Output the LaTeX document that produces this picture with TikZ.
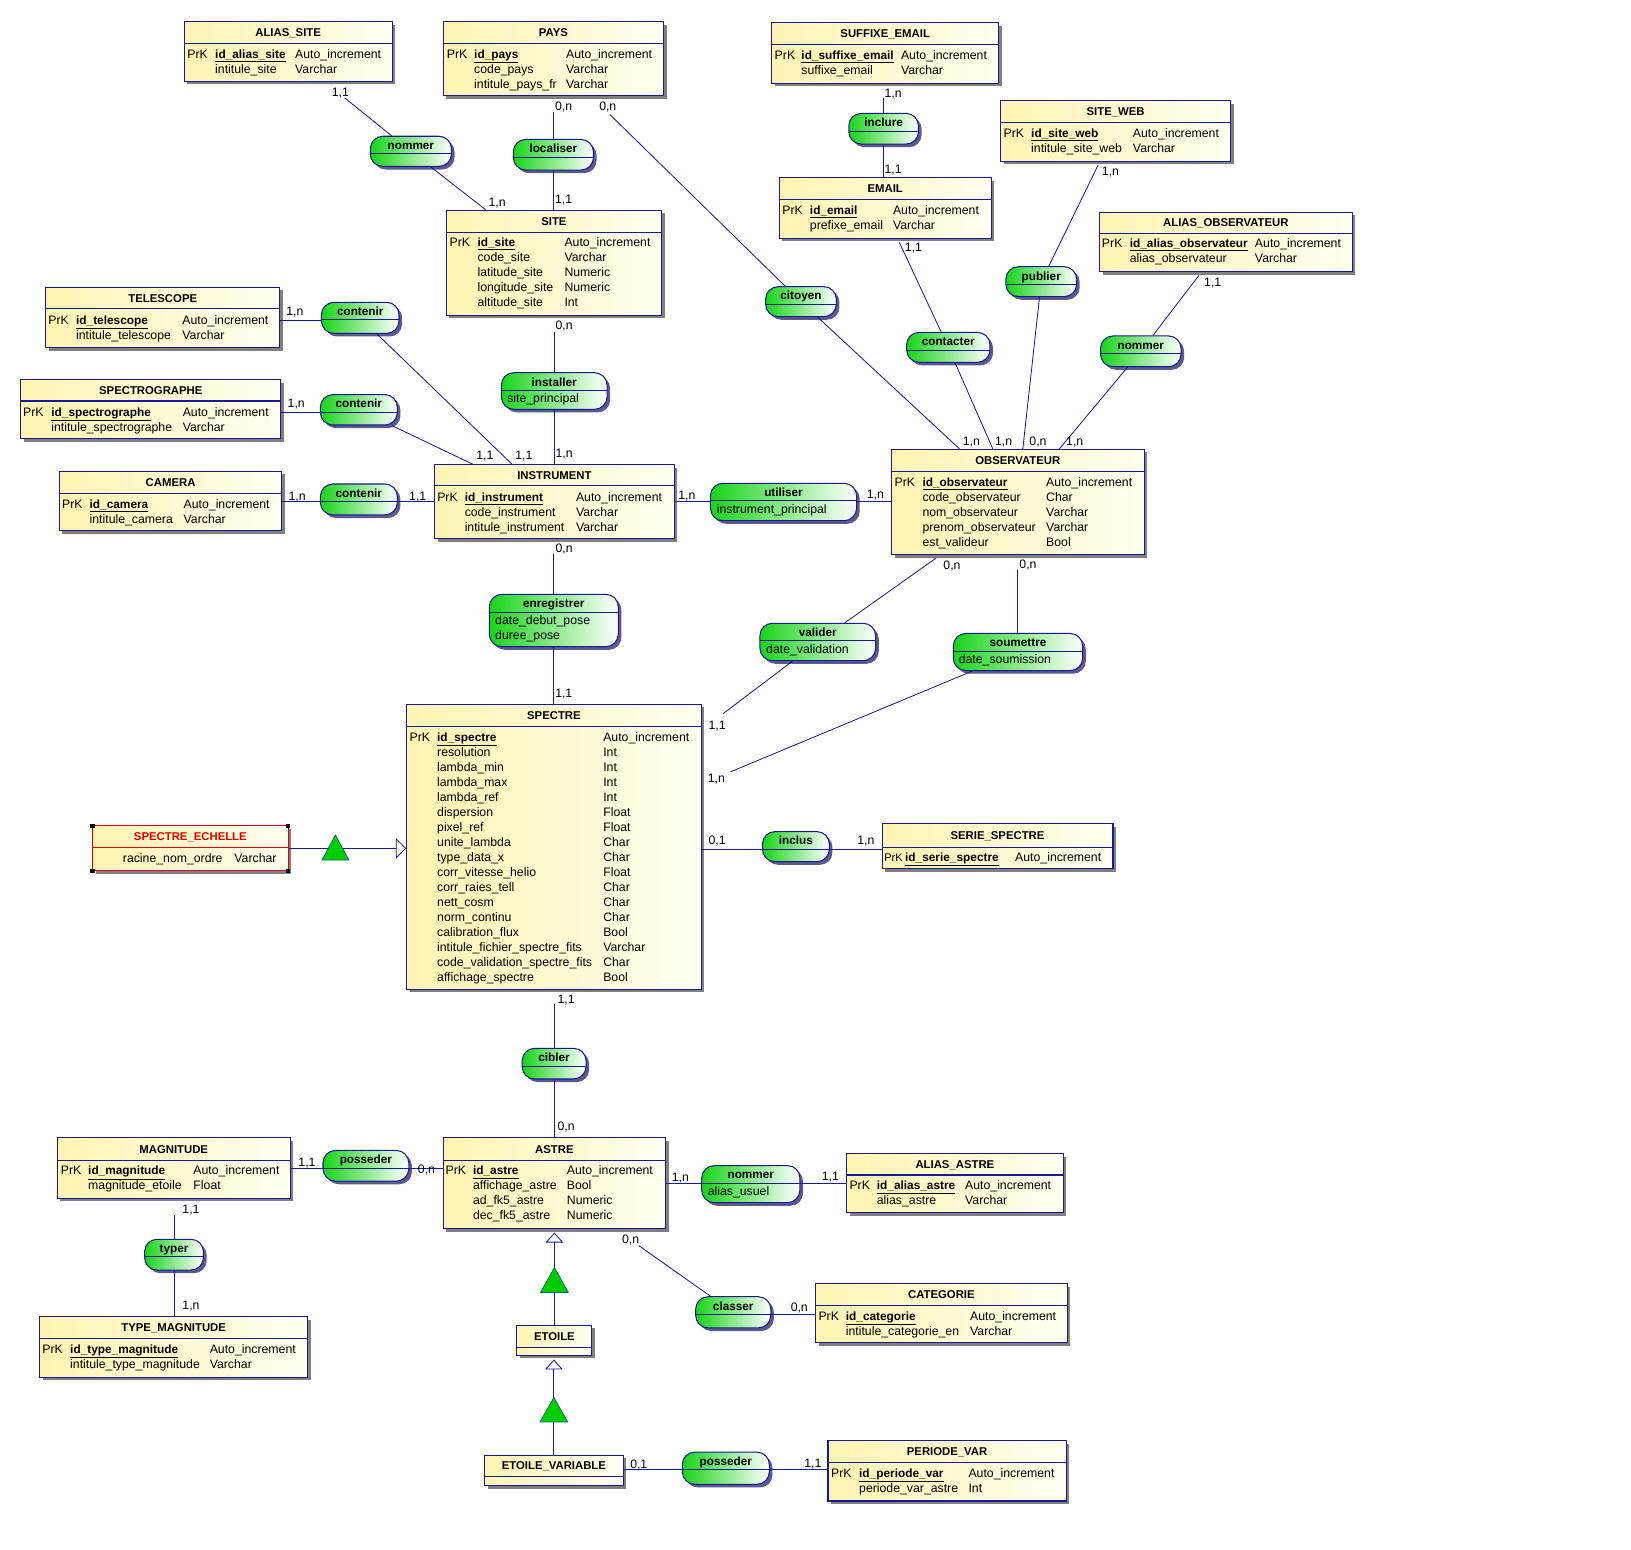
\documentclass[tikz,border=0pt]{standalone}
\usepackage{fontspec}
\setmainfont{Liberation Sans}
\usetikzlibrary{fit,calc,arrows.meta}
\definecolor{navy}{RGB}{25,25,150}
\definecolor{entL}{RGB}{255,244,178}
\definecolor{entR}{RGB}{255,255,240}
\definecolor{pg}{RGB}{25,212,25}
\definecolor{shd}{RGB}{128,128,128}
\definecolor{pshd}{RGB}{90,90,140}
\definecolor{trig}{RGB}{0,205,0}
\definecolor{trigd}{RGB}{0,110,90}
\definecolor{redt}{RGB}{225,0,0}
\newcommand\fR{\fontsize{11.8}{14.4}\selectfont}
\newcommand\fT{\fontsize{10.9}{13}\selectfont\bfseries}
\newcommand\fP{\fontsize{11.3}{13}\selectfont\bfseries}
\newcommand\pk[1]{{\fontsize{11.4}{14}\selectfont\bfseries\underline{#1}}}
\tikzset{
  ent/.style={draw=navy, line width=1pt, inner sep=0pt, rectangle, left color=entL, right color=entR},
  pill/.style={draw=navy, line width=1pt, inner sep=0pt, rounded corners=12pt, left color=pg, right color=white, middle color=pg!50!white},
  att/.style={anchor=base west, inner sep=0pt, font=\fR},
  ttl/.style={anchor=base, inner sep=0pt, font=\fT},
  ptl/.style={anchor=base, inner sep=0pt, font=\fP},
  card/.style={anchor=base west, inner sep=0pt, font=\fR},
  link/.style={draw=navy, line width=0.8pt},
  isa/.style={draw=navy, line width=0.8pt, -{Triangle[open, length=9.5pt, width=17pt]}},
  gtri/.style={fill=trig, draw=trigd, line width=0.7pt},
}
\newcommand\Ent[8]{%
  \fill[shd] ({#2+3},{#3+3}) rectangle ({#4+3},{#5+3});
  \node[ent, fit={(#2,#3) (#4,#5)}] (#1) {};
  \draw[navy, line width=1pt] (#2,#6) -- (#4,#6);
  \node[ttl] (#1-t) at ({(#2+#4)/2},{#7+4}) {#8};
}
\newcommand\PK[3]{\node[att] (#1-pk) at (#2,{#3+4.2}) {PrK};}
\newcommand\Rows[5]{%
  \foreach \aN/\aT [count=\i from 0] in {#5}{%
    \node[att] (#1-a\i) at (#2,{#4+\i*14.42+4.2}) {\aN};
    \node[att] (#1-y\i) at (#3,{#4+\i*14.42+4.2}) {\aT};
  }%
}
\newcommand\Pill[6]{%
  \fill[pshd, rounded corners=12pt] ({#2+3},{#3+3}) rectangle ({#4+3},{#5+3});
  \node[pill, fit={(#2,#3) (#4,#5)}] (#1) {};
  \coordinate (#1-w) at (#2,{#3+17});
  \coordinate (#1-e) at (#4,{#3+17});
  \draw[navy, line width=0.9pt] (#1-w) -- (#1-e);
  \node[ptl] (#1-t) at ({(#2+#4)/2},{#3+12.8}) {#6};
}
\newcommand\PA[4]{\node[att] (#1) at (#2,{#3+4.2}) {#4};}
\newcommand\Card[4]{\node[card] (#1) at (#2,{#3+4.2}) {#4};}
\begin{document}
\begin{tikzpicture}[x=1pt,y=-1pt]
\fill[white] (0,0) rectangle (1568,1490);
\useasboundingbox (0,0) rectangle (1568,1490);

% ---------------- entities ----------------
\Ent{aliassite}{177}{21}{377}{78}{42}{31.5}{ALIAS\_SITE}
\PK{aliassite}{180}{51.6}
\Rows{aliassite}{206.7}{283.6}{51.6}{\pk{id\_alias\_site}/Auto\_increment, intitule\_site/Varchar}

\Ent{pays}{426}{21}{638}{92}{42}{31.5}{PAYS}
\PK{pays}{429.4}{51.6}
\Rows{pays}{455.7}{544.1}{51.6}{\pk{id\_pays}/Auto\_increment, code\_pays/Varchar, intitule\_pays\_fr/Varchar}

\Ent{suffixe}{742}{22}{960}{80}{43}{32}{SUFFIXE\_EMAIL}
\PK{suffixe}{744.6}{52.6}
\Rows{suffixe}{770.3}{866}{52.6}{\pk{id\_suffixe\_email}/Auto\_increment, suffixe\_email/Varchar}

\Ent{siteweb}{962}{97}{1183}{155}{117.6}{107}{SITE\_WEB}
\PK{siteweb}{964.6}{127.6}
\Rows{siteweb}{991.2}{1089}{127.6}{\pk{id\_site\_web}/Auto\_increment, intitule\_site\_web/Varchar}

\Ent{email}{749}{171}{953}{229}{191.6}{181}{EMAIL}
\PK{email}{752}{201.9}
\Rows{email}{778.5}{858.3}{201.9}{\pk{id\_email}/Auto\_increment, prefixe\_email/Varchar}

\Ent{aliasobs}{1057}{204}{1300}{261}{224.3}{214}{ALIAS\_OBSERVATEUR}
\PK{aliasobs}{1059.2}{233.9}
\Rows{aliasobs}{1086}{1206.3}{233.9}{\pk{id\_alias\_observateur}/Auto\_increment, alias\_observateur/Varchar}

\Ent{site}{429}{202}{636}{303}{223.3}{212.5}{SITE}
\PK{site}{432}{232.9}
\Rows{site}{458.9}{542.5}{232.9}{\pk{id\_site}/Auto\_increment, code\_site/Varchar, latitude\_site/Numeric, longitude\_site/Numeric, altitude\_site/Int}

\Ent{telescope}{44}{276}{269}{334}{296.7}{286.5}{TELESCOPE}
\PK{telescope}{46.3}{307.6}
\Rows{telescope}{73}{175.2}{307.6}{\pk{id\_telescope}/Auto\_increment, intitule\_telescope/Varchar}

\Ent{spectro}{20}{365}{270}{422}{385.5}{375}{SPECTROGRAPHE}
\PK{spectro}{22.1}{396}
\Rows{spectro}{49.2}{175.5}{396}{\pk{id\_spectrographe}/Auto\_increment, intitule\_spectrographe/Varchar}

\Ent{camera}{57}{453}{271}{510}{474}{463.5}{CAMERA}
\PK{camera}{59.6}{484.2}
\Rows{camera}{86}{176.4}{484.2}{\pk{id\_camera}/Auto\_increment, intitule\_camera/Varchar}

\Ent{instrument}{418}{447}{648}{518}{467.2}{457}{INSTRUMENT}
\PK{instrument}{420.2}{477.5}
\Rows{instrument}{446.6}{553.6}{477.5}{\pk{id\_instrument}/Auto\_increment, code\_instrument/Varchar, intitule\_instrument/Varchar}

\Ent{obs}{857}{432}{1100}{533}{453.4}{442.5}{OBSERVATEUR}
\PK{obs}{859.8}{463.1}
\Rows{obs}{886.7}{1005.6}{463.1}{\pk{id\_observateur}/Auto\_increment, code\_observateur/Char, nom\_observateur/Varchar, prenom\_observateur/Varchar, est\_valideur/Bool}

\Ent{spectre}{391}{677}{674}{951}{698}{687.5}{SPECTRE}
\PK{spectre}{393.6}{708.2}
\Rows{spectre}{420.1}{579.8}{708.2}{\pk{id\_spectre}/Auto\_increment, resolution/Int, lambda\_min/Int, lambda\_max/Int, lambda\_ref/Int, dispersion/Float, pixel\_ref/Float, unite\_lambda/Char, type\_data\_x/Char, corr\_vitesse\_helio/Float, corr\_raies\_tell/Char, nett\_cosm/Char, norm\_continu/Char, calibration\_flux/Bool, intitule\_fichier\_spectre\_fits/Varchar, code\_validation\_spectre\_fits/Char, affichage\_spectre/Bool}

% SPECTRE_ECHELLE (selected, red)
\fill[shd] (92,797) rectangle (280,840);
\node[ent, draw=redt, fit={(89,794) (277,837)}] (echelle) {};
\draw[redt, line width=1pt] (89,814.3) -- (277,814.3);
\node[ttl, text=redt] (echelle-t) at (183,808) {SPECTRE\_ECHELLE};
\node[att] (echelle-a0) at (118,828.7) {racine\_nom\_ordre};
\node[att] (echelle-y0) at (225.2,828.7) {Varchar};
\foreach \cx/\cy in {89/794, 277/794, 89/837, 277/837}
  \fill[black] (\cx-2,\cy-2) rectangle (\cx+2,\cy+2);

\Ent{serie}{848}{792}{1070}{835}{814.5}{803}{SERIE\_SPECTRE}
\node[att, font=\fontsize{10.6}{13}\selectfont] (serie-pk) at (850,828.4) {PrK};
\Rows{serie}{870}{975.8}{824.2}{\pk{id\_serie\_spectre}/Auto\_increment}

\Ent{astre}{426}{1094}{640}{1181}{1115.5}{1105}{ASTRE}
\PK{astre}{428.3}{1125.4}
\Rows{astre}{454.6}{544.8}{1125.4}{\pk{id\_astre}/Auto\_increment, affichage\_astre/Bool, ad\_fk5\_astre/Numeric, dec\_fk5\_astre/Numeric}

\Ent{magnitude}{55}{1094}{279}{1152}{1115.5}{1105}{MAGNITUDE}
\PK{magnitude}{58.3}{1125.4}
\Rows{magnitude}{84.6}{185.8}{1125.4}{\pk{id\_magnitude}/Auto\_increment, magnitude\_etoile/Float}

\Ent{typemag}{38}{1266}{296}{1324}{1286.6}{1276}{TYPE\_MAGNITUDE}
\PK{typemag}{40.6}{1296.9}
\Rows{typemag}{67.3}{201.5}{1296.9}{\pk{id\_type\_magnitude}/Auto\_increment, intitule\_type\_magnitude/Varchar}

\Ent{etoile}{497}{1274}{569}{1303}{1295}{1284.5}{ETOILE}
\Ent{etoilevar}{466}{1399}{599}{1428}{1419.6}{1409}{ETOILE\_VARIABLE}

\Ent{aliasastre}{814}{1109}{1022}{1166}{1129.6}{1119.5}{ALIAS\_ASTRE}
\PK{aliasastre}{816.5}{1139.8}
\Rows{aliasastre}{842.8}{927.7}{1139.8}{\pk{id\_alias\_astre}/Auto\_increment, alias\_astre/Varchar}

\Ent{categorie}{784}{1234}{1026}{1291}{1254.9}{1244.5}{CATEGORIE}
\PK{categorie}{786.7}{1264.8}
\Rows{categorie}{813}{932.5}{1264.8}{\pk{id\_categorie}/Auto\_increment, intitule\_categorie\_en/Varchar}

\Ent{periode}{796}{1385}{1025}{1443}{1405.8}{1395}{PERIODE\_VAR}
\PK{periode}{798.9}{1415.8}
\Rows{periode}{825.8}{930.9}{1415.8}{\pk{id\_periode\_var}/Auto\_increment, periode\_var\_astre/Int}

% ---------------- associations ----------------
\Pill{nommerS}{356}{131}{434}{160}{nommer}
\Pill{localiser}{493.5}{134}{570.5}{163.5}{localiser}
\Pill{inclure}{816}{109}{883}{138.5}{inclure}
\Pill{citoyen}{736}{275.6}{804}{304.4}{citoyen}
\Pill{publier}{967}{256.4}{1035}{285.2}{publier}
\Pill{contacter}{871.6}{319.5}{951.7}{348.3}{contacter}
\Pill{nommerO}{1058}{323}{1135.4}{352.5}{nommer}
\Pill{contenirT}{309}{290.6}{383.6}{320.5}{contenir}
\Pill{contenirS}{308}{379.4}{382}{408.6}{contenir}
\Pill{contenirC}{308}{465.3}{382}{495}{contenir}
\Pill{installer}{482}{358.3}{583.6}{393.5}{installer}
\PA{installer-a0}{487.5}{382.3}{site\_principal}
\Pill{utiliser}{683}{464.6}{823.5}{500.6}{utiliser}
\PA{utiliser-a0}{689}{489.3}{instrument\_principal}
\Pill{enregistrer}{470.4}{571.4}{594.4}{621.7}{enregistrer}
\PA{enregistrer-a0}{475.9}{596}{date\_debut\_pose}
\PA{enregistrer-a1}{475.9}{610.5}{duree\_pose}
\Pill{valider}{730.6}{599.2}{841.8}{635.2}{valider}
\PA{valider-a0}{736.4}{623.9}{date\_validation}
\Pill{soumettre}{916.5}{609}{1040.8}{644.7}{soumettre}
\PA{soumettre-a0}{921.6}{633.2}{date\_soumission}
\Pill{inclus}{733}{799.5}{797.3}{828.4}{inclus}
\Pill{cibler}{502}{1007.8}{563.4}{1037.3}{cibler}
\Pill{possederM}{310.5}{1106}{393}{1135.5}{posseder}
\Pill{typer}{139}{1191.4}{195.6}{1221}{typer}
\Pill{nommerA}{674.6}{1120.6}{769}{1156.2}{nommer}
\PA{nommerA-a0}{680.3}{1145}{alias\_usuel}
\Pill{classer}{668.8}{1246.6}{741}{1276.6}{classer}
\Pill{possederV}{656}{1396}{739.6}{1427}{posseder}

% ---------------- connectors ----------------
\coordinate (pays-g) at ($(pays.south)+(0,15)$);
\coordinate (suffixe-g) at ($(suffixe.south)+(0,14)$);
\coordinate (site-g) at ($(site.south)+(0,16)$);
\coordinate (instrument-g) at ($(instrument.south)+(0,14)$);
\coordinate (obs-g) at ($(obs.south west)+(121.5,14)$);
\coordinate (spectre-g) at ($(spectre.south)+(0,14)$);
\coordinate (magnitude-g) at ($(magnitude.south)+(0,16)$);
\coordinate (astre-tip) at ($(etoile.north |- astre.south)+(0,3.5)$);
\coordinate (etoile-tip) at ($(etoilevar.north |- etoile.south)+(0,3.5)$);

\draw[link] ($(aliassite.south west)+(154.7,15.5)$) -- (nommerS);
\draw[link] (nommerS) -- ($(site.north west)+(38.2,0)$);
\draw[link] (localiser.north) -- (localiser.north |- pays-g);
\draw[link] (localiser.south) -- (localiser.south |- site.north);
\draw[link] ($(pays.south east)+(-52.2,17.6)$) -- (citoyen);
\draw[link] (citoyen) -- ($(obs.north west)+(65.9,0)$);
\draw[link] (inclure.north) -- (inclure.north |- suffixe-g);
\draw[link] (inclure.south) -- (inclure.south |- email.north);
\draw[link] ($(email.south west)+(115.9,3.2)$) -- (contacter);
\draw[link] (contacter) -- ($(obs.north west)+(97.9,0)$);
\draw[link] ($(siteweb.south west)+(94.2,3.2)$) -- (publier);
\draw[link] (publier) -- ($(obs.north west)+(126.8,0)$);
\draw[link] ($(aliasobs.south west)+(96,3.4)$) -- (nommerO);
\draw[link] (nommerO) -- ($(obs.north west)+(162,0)$);
\draw[link] (telescope.east |- contenirT-w) -- (contenirT-w);
\draw[link] (contenirT) -- ($(instrument.north west)+(75,0)$);
\draw[link] (spectro.east |- contenirS-w) -- (contenirS-w);
\draw[link] (contenirS) -- ($(instrument.north west)+(37.5,0)$);
\draw[link] (camera.east |- contenirC-w) -- (contenirC-w);
\draw[link] (contenirC-e) -- (contenirC-e -| instrument.west);
\draw[link] (installer.north) -- (installer.north |- site-g);
\draw[link] (installer.south) -- (installer.south |- instrument.north);
\draw[link] (instrument.east |- utiliser-w) -- (utiliser-w);
\draw[link] (utiliser-e) -- (utiliser-e -| obs.west);
\draw[link] (enregistrer.north) -- (enregistrer.north |- instrument-g);
\draw[link] (enregistrer.south) -- (enregistrer.south |- spectre.north);
\draw[link] ($(obs.south west)+(43.5,2.9)$) -- (valider);
\draw[link] (valider) -- ($(spectre.north east)+(20.7,9.6)$);
\draw[link] (obs-g) -- (obs-g |- soumettre.north);
\draw[link] (soumettre) -- ($(spectre.north east)+(27.8,65.5)$);
\draw[link] (spectre.east |- inclus-w) -- (inclus-w);
\draw[link] (inclus-e) -- (inclus-e -| serie.west);
\draw[link] (cibler.north) -- (cibler.north |- spectre-g);
\draw[link] (cibler.south) -- (cibler.south |- astre.north);
\draw[link] (magnitude.east |- possederM-w) -- (possederM-w);
\draw[link] (possederM-e) -- (possederM-e -| astre.west);
\draw[link] (typer.north) -- (typer.north |- magnitude-g);
\draw[link] (typer.south) -- (typer.south |- typemag.north);
\draw[link] (astre.east |- nommerA-w) -- (nommerA-w);
\draw[link] (nommerA-e) -- (nommerA-e -| aliasastre.west);
\draw[link] ($(astre.south east)+(-26.5,15.9)$) -- (classer);
\draw[link] (classer-e) -- (classer-e -| categorie.west);
\draw[link] (etoilevar.east |- possederV-w) -- (possederV-w);
\draw[link] (possederV-e) -- (possederV-e -| periode.west);

% inheritance
\draw[link, -{Triangle[open, length=10pt, width=20pt]}] (echelle.east) -- (echelle.east -| spectre.west);
\path[gtri] (309.6,826.8) -- (322.5,802.7) -- (335.4,826.8) -- cycle;
\draw[isa] (etoile.north) -- (astre-tip);
\path[gtri] ($(etoile.north)+(-13.3,-31)$) -- ($(etoile.north)+(0,-55)$) -- ($(etoile.north)+(13.3,-31)$) -- cycle;
\draw[isa] (etoilevar.north) -- (etoile-tip);
\path[gtri] ($(etoilevar.north)+(-13.3,-31.5)$) -- ($(etoilevar.north)+(0,-55)$) -- ($(etoilevar.north)+(13.3,-31.5)$) -- cycle;

% ---------------- cardinalities ----------------
\Card{k1}{318.8}{88.2}{1,1}
\Card{k2}{469.5}{194.2}{1,n}
\Card{k3}{533.5}{101.9}{0,n}
\Card{k4}{533.5}{191.3}{1,1}
\Card{k5}{575.9}{102.5}{0,n}
\Card{k6}{534}{312.4}{0,n}
\Card{k7}{534}{435.8}{1,n}
\Card{k8}{275.1}{299}{1,n}
\Card{k9}{276.4}{387.7}{1,n}
\Card{k10}{277.2}{476.5}{1,n}
\Card{k11}{457.8}{438}{1,1}
\Card{k12}{495.3}{438}{1,1}
\Card{k13}{393.2}{476.5}{1,1}
\Card{k14}{652}{476}{1,n}
\Card{k15}{833.2}{475.2}{1,n}
\Card{k16}{534}{527}{0,n}
\Card{k17}{533.6}{666.5}{1,1}
\Card{k18}{925.5}{424}{1,n}
\Card{k19}{956.5}{424}{1,n}
\Card{k20}{989.5}{424}{0,n}
\Card{k21}{1024.8}{424}{1,n}
\Card{k22}{850.2}{89.1}{1,n}
\Card{k23}{850.2}{162.2}{1,1}
\Card{k24}{869.8}{237.7}{1,1}
\Card{k25}{1059.2}{164.7}{1,n}
\Card{k26}{1157.5}{270.8}{1,1}
\Card{k27}{906.8}{543.2}{0,n}
\Card{k28}{979.9}{542.5}{0,n}
\Card{k29}{681}{697}{1,1}
\Card{k30}{680.3}{748.2}{1,n}
\Card{k31}{681}{808}{0,1}
\Card{k32}{824}{808}{1,n}
\Card{k33}{535.8}{960.4}{1,1}
\Card{k34}{535.8}{1082.2}{0,n}
\Card{k35}{286.7}{1117.4}{1,1}
\Card{k36}{401.6}{1124}{0,n}
\Card{k37}{175.2}{1162.6}{1,1}
\Card{k38}{175.2}{1254.6}{1,n}
\Card{k39}{645.7}{1131.2}{1,n}
\Card{k40}{789.9}{1131}{1,1}
\Card{k41}{597.8}{1191.1}{0,n}
\Card{k42}{760}{1256.2}{0,n}
\Card{k43}{605.7}{1407.4}{0,1}
\Card{k44}{773}{1406.8}{1,1}
\end{tikzpicture}
\end{document}
